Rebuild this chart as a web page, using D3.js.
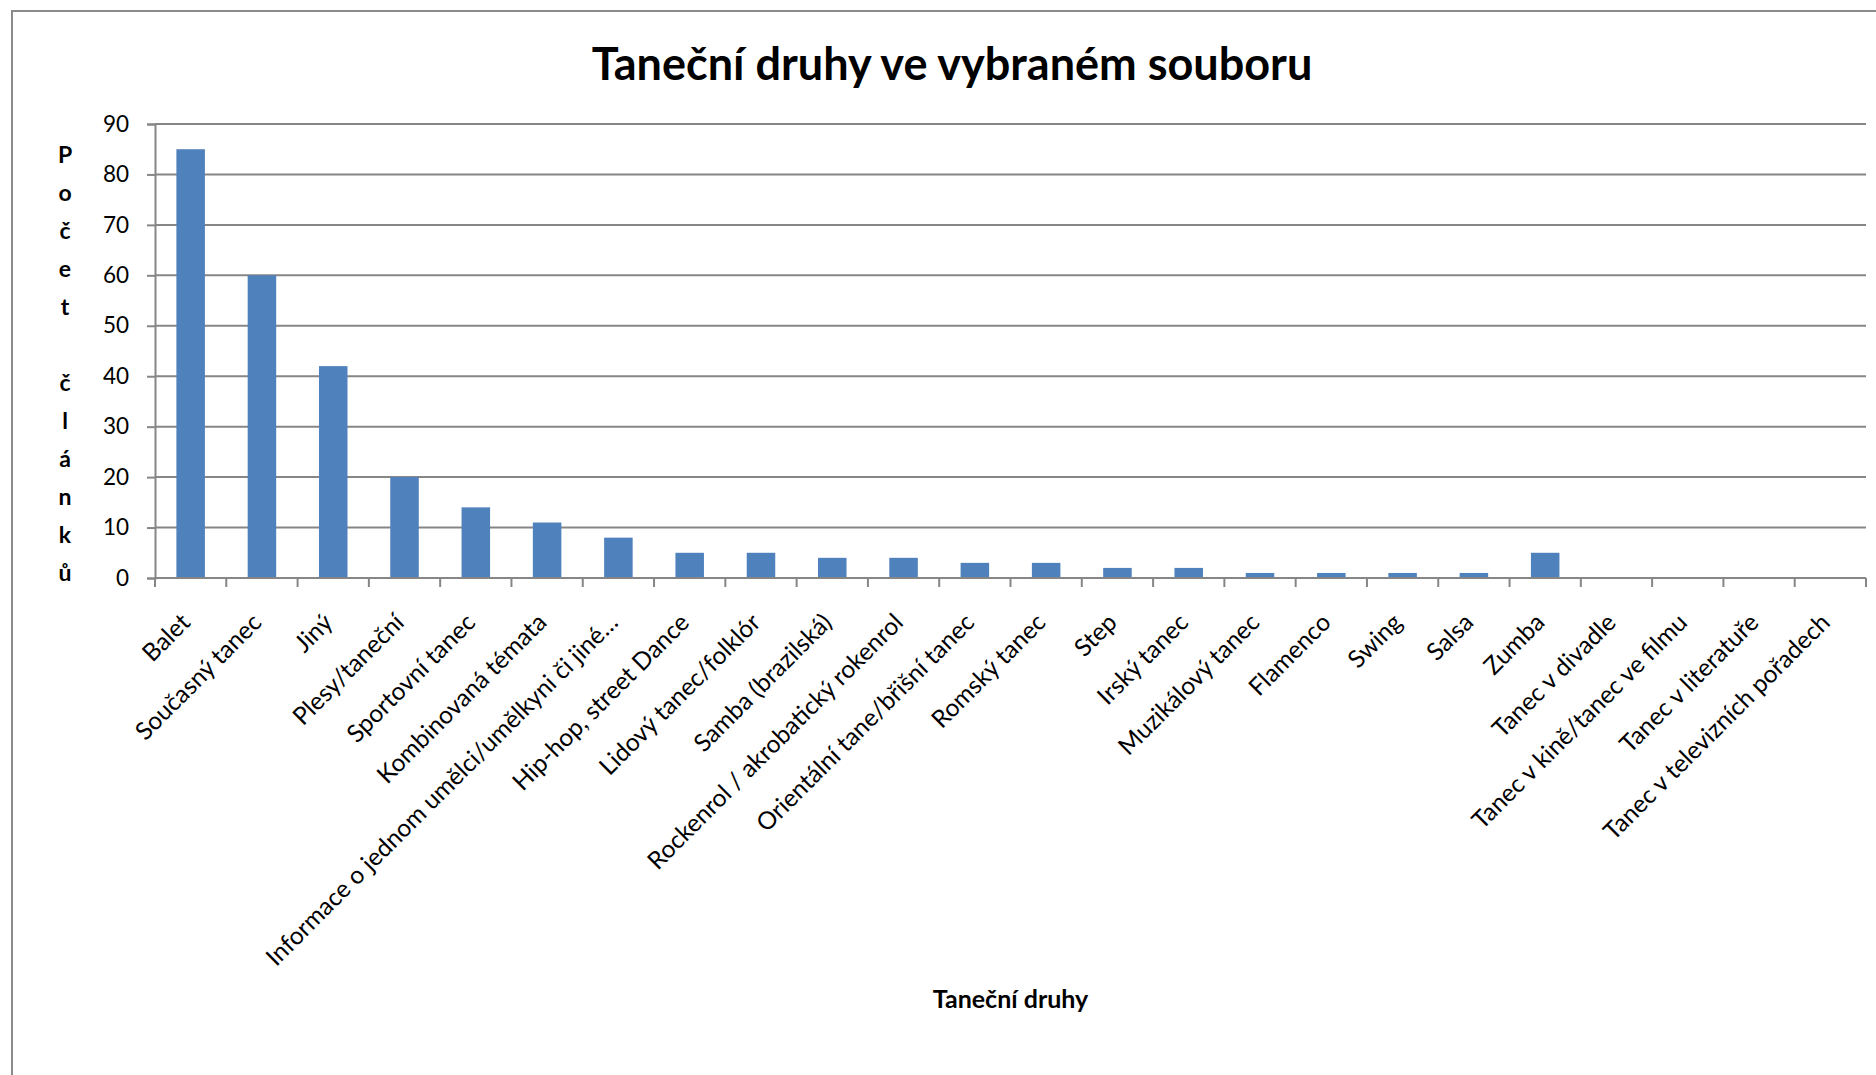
<!DOCTYPE html>
<html>
<head>
<meta charset="utf-8">
<script src="https://cdn.jsdelivr.net/npm/d3@7"></script>
<style>
  body { margin: 0; background: #fff; }
  text { font-family: Lato, sans-serif; fill: #000; }
</style>
</head>
<body>
<svg id="chart"></svg>
<script>
const categories = [
  'Balet', 'Současný tanec', 'Jiný', 'Plesy/taneční', 'Sportovní tanec',
  'Kombinovaná témata', 'Informace o jednom umělci/umělkyni či jiné…',
  'Hip-hop, street Dance', 'Lidový tanec/folklór', 'Samba (brazilská)',
  'Rockenrol / akrobatický rokenrol', 'Orientální tane/břišní tanec',
  'Romský tanec', 'Step', 'Irský tanec', 'Muzikálový tanec', 'Flamenco',
  'Swing', 'Salsa', 'Zumba', 'Tanec v divadle', 'Tanec v kině/tanec ve filmu',
  'Tanec v literatuře', 'Tanec v televizních pořadech'
];
const counts = [85, 60, 42, 20, 14, 11, 8, 5, 5, 4, 4, 3, 3, 2, 2, 1, 1, 1, 1, 5, 0, 0, 0, 0];
const yTicks = [0, 10, 20, 30, 40, 50, 60, 70, 80, 90];
const chartTitle = 'Taneční druhy ve vybraném souboru';
const xTitle = 'Taneční druhy';
const yTitle = 'Počet článků';

const width = 1876;
const height = 1075;
const plot = { left: 155, right: 1866, top: 124, bottom: 578 };
const gridColor = '#868686';

const svg = d3.select('#chart')
  .attr('width', width)
  .attr('height', height);

// outer chart border (only left and top edges are visible)
svg.append('path')
  .attr('d', `M12,${height} V11 H${width}`)
  .attr('fill', 'none')
  .attr('stroke', '#8a8a8a')
  .attr('stroke-width', 2);

const x = d3.scaleBand()
  .domain(categories)
  .range([plot.left, plot.right])
  .paddingInner(0.6)
  .paddingOuter(0.3);

const xEdge = d3.scaleLinear()
  .domain([0, categories.length])
  .range([plot.left, plot.right]);

const y = d3.scaleLinear()
  .domain([0, 90])
  .range([plot.bottom, plot.top]);

// gridlines
svg.append('g')
  .selectAll('line')
  .data(yTicks)
  .join('line')
  .attr('x1', plot.left)
  .attr('x2', plot.right)
  .attr('y1', d => y(d))
  .attr('y2', d => y(d))
  .attr('stroke', gridColor)
  .attr('stroke-width', 2);

// y axis
const yAxis = svg.append('g')
  .attr('transform', `translate(${plot.left},0)`)
  .call(d3.axisLeft(y).tickValues(yTicks).tickSize(8).tickPadding(18));
yAxis.select('.domain').attr('stroke', gridColor).attr('stroke-width', 2);
yAxis.selectAll('.tick line').attr('stroke', gridColor).attr('stroke-width', 2);
yAxis.selectAll('.tick text')
  .style('font-family', 'Lato, sans-serif')
  .style('font-size', '22.5px')
  .attr('fill', '#000');

// bars
svg.append('g')
  .selectAll('rect')
  .data(categories)
  .join('rect')
  .attr('x', d => x(d))
  .attr('width', x.bandwidth())
  .attr('y', (d, i) => y(counts[i]))
  .attr('height', (d, i) => y(0) - y(counts[i]))
  .attr('fill', '#4f81bd');

// x axis line + boundary ticks
svg.append('line')
  .attr('x1', plot.left)
  .attr('x2', plot.right)
  .attr('y1', plot.bottom)
  .attr('y2', plot.bottom)
  .attr('stroke', gridColor)
  .attr('stroke-width', 2);

svg.append('g')
  .selectAll('line')
  .data(d3.range(categories.length + 1))
  .join('line')
  .attr('x1', d => xEdge(d))
  .attr('x2', d => xEdge(d))
  .attr('y1', plot.bottom)
  .attr('y2', plot.bottom + 9)
  .attr('stroke', gridColor)
  .attr('stroke-width', 2);

// rotated category labels
svg.append('g')
  .selectAll('text')
  .data(categories)
  .join('text')
  .attr('text-anchor', 'end')
  .attr('transform', (d, i) => `translate(${xEdge(i + 0.5) + 1},${plot.bottom + 46}) rotate(-45)`)
  .style('font-size', '24.5px')
  .text(d => d);

// title
svg.append('text')
  .attr('x', 952)
  .attr('y', 80)
  .attr('text-anchor', 'middle')
  .style('font-size', '45px')
  .style('font-weight', 'bold')
  .text(chartTitle);

// x axis title
svg.append('text')
  .attr('x', (plot.left + plot.right) / 2)
  .attr('y', 1008)
  .attr('text-anchor', 'middle')
  .style('font-size', '25px')
  .style('font-weight', 'bold')
  .text(xTitle);

// y axis title, one letter per line
svg.append('g')
  .selectAll('text')
  .data(Array.from(yTitle))
  .join('text')
  .attr('x', 65)
  .attr('y', (d, i) => 163 + i * 38)
  .attr('text-anchor', 'middle')
  .style('font-size', '23px')
  .style('font-weight', 'bold')
  .text(d => d.trim());
</script>
</body>
</html>
